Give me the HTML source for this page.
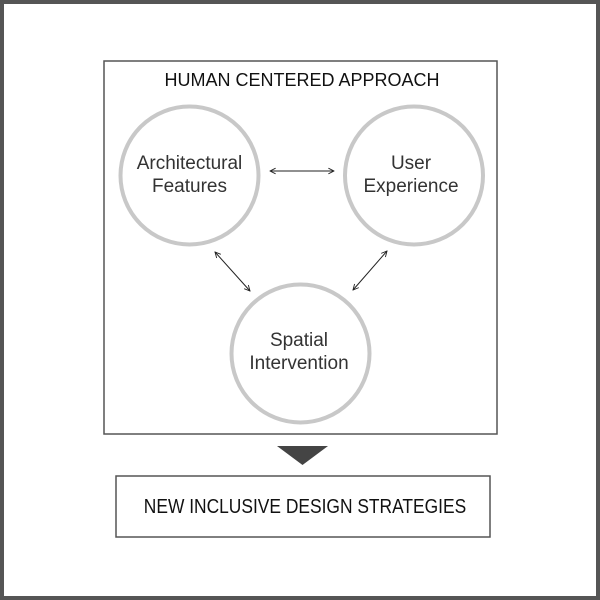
<!DOCTYPE html>
<html><head><style>
html,body{margin:0;padding:0;background:#fff}
svg{display:block}
text{font-family:"Liberation Sans",sans-serif}
</style></head><body>
<svg width="600" height="600" viewBox="0 0 600 600" xmlns="http://www.w3.org/2000/svg">
<defs>
<marker id="a" viewBox="0 0 10 10" refX="9" refY="5" markerWidth="7" markerHeight="7" orient="auto-start-reverse" markerUnits="userSpaceOnUse">
<path d="M1,1 L9,5 L1,9" fill="none" stroke="#222" stroke-width="1.3"/>
</marker>
</defs>
<rect x="2" y="2" width="596" height="596" fill="#fff" stroke="#555" stroke-width="4"/>
<rect x="104" y="61" width="393" height="373" fill="none" stroke="#555" stroke-width="1.5"/>
<text x="302" y="86" font-size="18" text-anchor="middle" fill="#111">HUMAN CENTERED APPROACH</text>
<g fill="none" stroke="#c8c8c8" stroke-width="4">
<circle cx="189.5" cy="175.5" r="69"/>
<circle cx="414" cy="175.5" r="69"/>
<circle cx="300.5" cy="353.5" r="69"/>
</g>
<g font-size="19" text-anchor="middle" fill="#333">
<text x="189.5" y="169">Architectural</text>
<text x="189.5" y="192">Features</text>
<text x="411" y="169">User</text>
<text x="411" y="192">Experience</text>
<text x="299" y="346">Spatial</text>
<text x="299" y="369">Intervention</text>
</g>
<g stroke="#222" stroke-width="1" marker-start="url(#a)" marker-end="url(#a)">
<line x1="270" y1="171" x2="334" y2="171"/>
<line x1="215" y1="252" x2="250" y2="291"/>
<line x1="387" y1="251" x2="353" y2="290"/>
</g>
<polygon points="277,446 328,446 302.5,465" fill="#444"/>
<rect x="116" y="476" width="374" height="61" fill="none" stroke="#555" stroke-width="1.5"/>
<text x="305" y="513" font-size="20" text-anchor="middle" fill="#111" transform="translate(305 0) scale(0.87 1) translate(-305 0)">NEW INCLUSIVE DESIGN STRATEGIES</text>
</svg>
</body></html>
